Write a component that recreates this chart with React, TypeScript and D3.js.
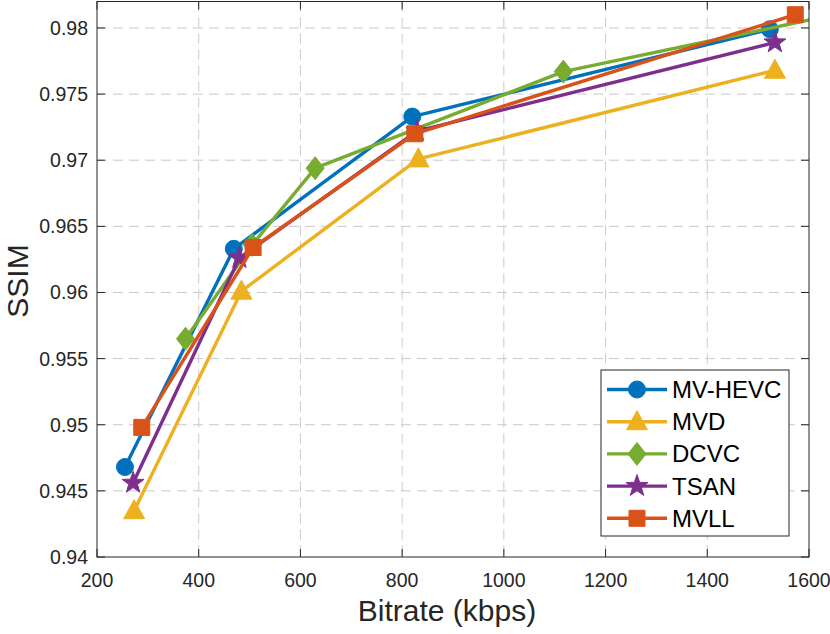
import React from "react";
import * as d3 from "d3";

const seriesNames = ["MV-HEVC", "MVD", "DCVC", "TSAN", "MVLL"];
const seriesColors = ["#0072BD", "#EDB120", "#77AC30", "#7E2F8E", "#D95319"];
const seriesMarkers = ["circle", "triangle", "diamond", "star", "square"];

const mvhevcX = [255, 469, 820, 1523];
const mvhevcY = [0.9468, 0.9633, 0.9733, 0.9799];
const mvdX = [273, 484, 832, 1533];
const mvdY = [0.9435, 0.9601, 0.9701, 0.9768];
const dcvcX = [374, 505, 629, 1117, 1650];
const dcvcY = [0.9565, 0.9636, 0.9694, 0.9767, 0.981];
const tsanX = [271, 480, 829, 1533];
const tsanY = [0.9456, 0.9626, 0.9722, 0.9789];
const mvllX = [288, 507, 825, 1573];
const mvllY = [0.9498, 0.9634, 0.972, 0.981];

const xTicks = [200, 400, 600, 800, 1000, 1200, 1400, 1600];
const yTicks = [0.94, 0.945, 0.95, 0.955, 0.96, 0.965, 0.97, 0.975, 0.98];
const yTickLabels = ["0.94", "0.945", "0.95", "0.955", "0.96", "0.965", "0.97", "0.975", "0.98"];

const allX = [mvhevcX, mvdX, dcvcX, tsanX, mvllX];
const allY = [mvhevcY, mvdY, dcvcY, tsanY, mvllY];

const W = 830;
const H = 634;
const L = 97;
const R = 809;
const T = 1.5;
const B = 557;
const FONT = "'Liberation Sans', Arial, Helvetica, sans-serif";
const AX = "#262626";

function markerPath(kind: string): string {
  if (kind === "circle") {
    const r = 8.5;
    return `M${r},0A${r},${r},0,1,1,${-r},0A${r},${r},0,1,1,${r},0Z`;
  }
  if (kind === "square") {
    const h = 8;
    return `M${-h},${-h}H${h}V${h}H${-h}Z`;
  }
  if (kind === "triangle") {
    return `M0,-11L10.5,8L-10.5,8Z`;
  }
  if (kind === "diamond") {
    return `M0,-11.5L9,0L0,11.5L-9,0Z`;
  }
  const pts: string[] = [];
  const ro = 11.5;
  const ri = 4.6;
  for (let i = 0; i < 10; i++) {
    const a = -Math.PI / 2 + (i * Math.PI) / 5;
    const r = i % 2 === 0 ? ro : ri;
    pts.push(`${(r * Math.cos(a)).toFixed(2)},${(r * Math.sin(a)).toFixed(2)}`);
  }
  return "M" + pts.join("L") + "Z";
}

export default function App() {
  const x = d3.scaleLinear().domain([200, 1600]).range([L, R]);
  const y = d3.scaleLinear().domain([0.94, 0.982]).range([B, T]);
  const line = d3
    .line<[number, number]>()
    .x((d) => x(d[0]))
    .y((d) => y(d[1]));

  const legX = 601;
  const legY = 370;
  const legW = 188;
  const legH = 166;
  const rowY0 = 389.5;
  const rowStep = 32.2;

  return (
    <div style={{ position: "absolute", left: 0, top: 0 }}>
      <svg width={W} height={H} style={{ display: "block", background: "#fff" }}>
        <defs>
          <clipPath id="plotclip">
            <rect x={L} y={T} width={R - L} height={B - T} />
          </clipPath>
        </defs>
        <rect x={0} y={0} width={W} height={H} fill="#fff" />
        <g stroke="#c9c9c9" strokeWidth={1} strokeDasharray="10,6">
          {xTicks.slice(1, -1).map((t) => (
            <line key={"gx" + t} x1={x(t)} x2={x(t)} y1={T} y2={B} />
          ))}
          {yTicks.slice(1).map((t) => (
            <line key={"gy" + t} x1={L} x2={R} y1={y(t)} y2={y(t)} />
          ))}
        </g>
        <g stroke={AX} strokeWidth={1}>
          {xTicks.map((t) => (
            <g key={"tx" + t}>
              <line x1={x(t)} x2={x(t)} y1={B} y2={B - 8} />
              <line x1={x(t)} x2={x(t)} y1={T} y2={T + 8} />
            </g>
          ))}
          {yTicks.map((t) => (
            <g key={"ty" + t}>
              <line x1={L} x2={L + 8} y1={y(t)} y2={y(t)} />
              <line x1={R} x2={R - 8} y1={y(t)} y2={y(t)} />
            </g>
          ))}
        </g>
        <g clipPath="url(#plotclip)">
          {seriesNames.map((name, i) => {
            const pts: [number, number][] = allX[i].map((v, j) => [v, allY[i][j]]);
            return (
              <g key={name}>
                <path d={line(pts) || ""} fill="none" stroke={seriesColors[i]} strokeWidth={3.4} strokeLinejoin="round" />
                {pts.map((p, j) => (
                  <path
                    key={j}
                    d={markerPath(seriesMarkers[i])}
                    transform={`translate(${x(p[0])},${y(p[1])})`}
                    fill={seriesColors[i]}
                    stroke={seriesColors[i]}
                    strokeWidth={1}
                  />
                ))}
              </g>
            );
          })}
        </g>
        <rect x={L} y={T} width={R - L} height={B - T} fill="none" stroke={AX} strokeWidth={1} />
        <g fontFamily={FONT} fontSize={19.5} fill={AX}>
          {xTicks.map((t) => (
            <text key={"lx" + t} x={x(t)} y={587} textAnchor="middle">
              {String(t)}
            </text>
          ))}
          {yTicks.map((t, i) => (
            <text key={"ly" + t} x={88} y={y(t) + 7} textAnchor="end">
              {yTickLabels[i]}
            </text>
          ))}
        </g>
        <text x={447} y={621} textAnchor="middle" fontFamily={FONT} fontSize={30} fill={AX}>
          Bitrate (kbps)
        </text>
        <text
          transform={`translate(28,281) rotate(-90)`}
          textAnchor="middle"
          fontFamily={FONT}
          fontSize={30}
          fill={AX}
        >
          SSIM
        </text>
        <rect x={legX} y={legY} width={legW} height={legH} fill="#fff" stroke={AX} strokeWidth={1} />
        {seriesNames.map((name, i) => {
          const ry = rowY0 + i * rowStep;
          return (
            <g key={"leg" + name}>
              <line x1={607} x2={667} y1={ry} y2={ry} stroke={seriesColors[i]} strokeWidth={3.4} />
              <path
                d={markerPath(seriesMarkers[i])}
                transform={`translate(637,${ry})`}
                fill={seriesColors[i]}
                stroke={seriesColors[i]}
                strokeWidth={1}
              />
              <text x={672} y={ry + 8.5} fontFamily={FONT} fontSize={24} fill="#000">
                {name}
              </text>
            </g>
          );
        })}
      </svg>
    </div>
  );
}
